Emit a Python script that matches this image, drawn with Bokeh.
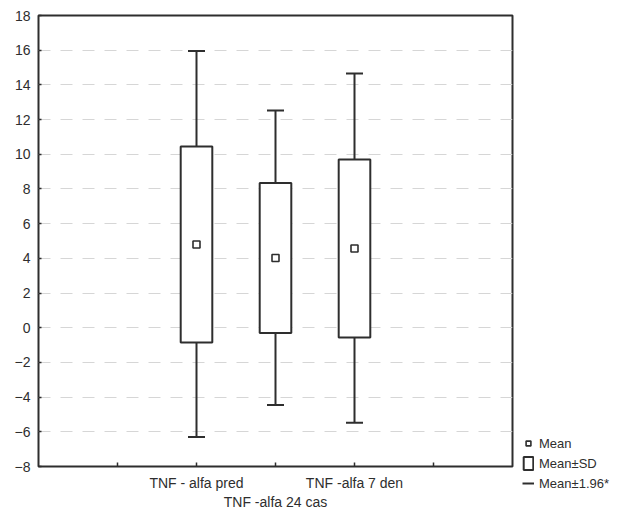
from bokeh.plotting import figure
from bokeh.models import (ColumnDataSource, LinearAxis, FixedTicker, Range1d,
                          Legend, LegendItem)
from bokeh.embed import file_html
from bokeh.resources import INLINE

# ---- data ----
categories = ["TNF - alfa pred", "TNF -alfa 24 cas", "TNF -alfa 7 den"]
mean = [4.8, 4.02, 4.57]
sd_low = [-0.85, -0.30, -0.56]
sd_high = [10.45, 8.34, 9.70]
ci_low = [-6.30, -4.45, -5.48]
ci_high = [15.95, 12.52, 14.65]
y_ticks = [-8, -6, -4, -2, 0, 2, 4, 6, 8, 10, 12, 14, 16, 18]
legend_labels = ["Mean", "Mean\u00b1SD", "Mean\u00b11.96*"]

FONT = "Liberation Sans"
INK = "#2e2e2e"

xpos = [i + 2 for i in range(len(categories))]
src = ColumnDataSource(dict(x=xpos, mean=mean, sd_low=sd_low, sd_high=sd_high,
                            ci_low=ci_low, ci_high=ci_high))

p = figure(frame_width=474, frame_height=451,
           x_range=Range1d(0, 6), y_range=Range1d(-8, 18),
           output_backend="svg", toolbar_location=None,
           x_axis_location=None, y_axis_location="left",
           min_border_left=38, min_border_right=105,
           min_border_top=15, min_border_bottom=0,
           background_fill_color="white", border_fill_color="white")

p.outline_line_color = INK
p.outline_line_width = 2

# y axis
yax = p.yaxis[0]
yax.ticker = FixedTicker(ticks=y_ticks)
yax.minor_tick_line_color = None
yax.major_tick_in = 3
yax.major_tick_out = 0
yax.major_tick_line_color = INK
yax.major_tick_line_width = 1.5
yax.axis_line_color = None
yax.major_label_standoff = 8
yax.major_label_text_font = FONT
yax.major_label_text_font_size = "14px"
yax.major_label_text_color = INK

# grid
p.xgrid.visible = False
p.ygrid.ticker = FixedTicker(ticks=y_ticks[1:-1])
p.ygrid.grid_line_color = "#d6d6d6"
p.ygrid.grid_line_dash = "12 10"
p.ygrid.grid_line_width = 1

# x axes (staggered labels)
ax1 = LinearAxis(ticker=FixedTicker(ticks=[1, 2, 3, 4, 5]),
                 major_label_overrides={1: "", 2: categories[0], 3: "",
                                        4: categories[2], 5: ""})
ax2 = LinearAxis(ticker=FixedTicker(ticks=[3]),
                 major_label_overrides={3: categories[1]})
for ax in (ax1, ax2):
    ax.minor_tick_line_color = None
    ax.axis_line_color = None
    ax.major_label_text_font = FONT
    ax.major_label_text_font_size = "14px"
    ax.major_label_text_color = INK
ax1.major_tick_in = 4
ax1.major_tick_out = 0
ax1.major_tick_line_color = INK
ax1.major_tick_line_width = 1.5
ax1.major_label_standoff = 8
ax2.major_tick_line_color = None
ax2.major_tick_in = 0
ax2.major_tick_out = 0
ax2.major_label_standoff = 0
p.add_layout(ax1, "below")
p.add_layout(ax2, "below")

# whiskers
p.segment(x0="x", y0="ci_low", x1="x", y1="sd_low", source=src,
          line_color=INK, line_width=2)
stems = p.segment(x0="x", y0="sd_high", x1="x", y1="ci_high", source=src,
                  line_color=INK, line_width=2)
p.scatter(x="x", y="ci_low", source=src, marker="dash", size=17,
          line_color=INK, line_width=2)
p.scatter(x="x", y="ci_high", source=src, marker="dash", size=17,
          line_color=INK, line_width=2)

# boxes (mean +- SD)
boxes = p.vbar(x="x", bottom="sd_low", top="sd_high", width=0.4, source=src,
               fill_color="white", line_color=INK, line_width=2)

# mean markers
means = p.scatter(x="x", y="mean", source=src, marker="square", size=7,
                  fill_color=None, line_color=INK, line_width=1.6)

legend = Legend(items=[LegendItem(label=legend_labels[0], renderers=[means]),
                       LegendItem(label=legend_labels[1], renderers=[boxes]),
                       LegendItem(label=legend_labels[2], renderers=[stems])],
                location=(10, -25), padding=0, margin=0, spacing=4,
                glyph_width=12, glyph_height=16, label_standoff=5,
                label_text_font=FONT, label_text_font_size="13px",
                label_text_color=INK, border_line_color=None,
                background_fill_alpha=0)
p.add_layout(legend, "right")

open("out.html", "w").write(file_html(p, INLINE))
